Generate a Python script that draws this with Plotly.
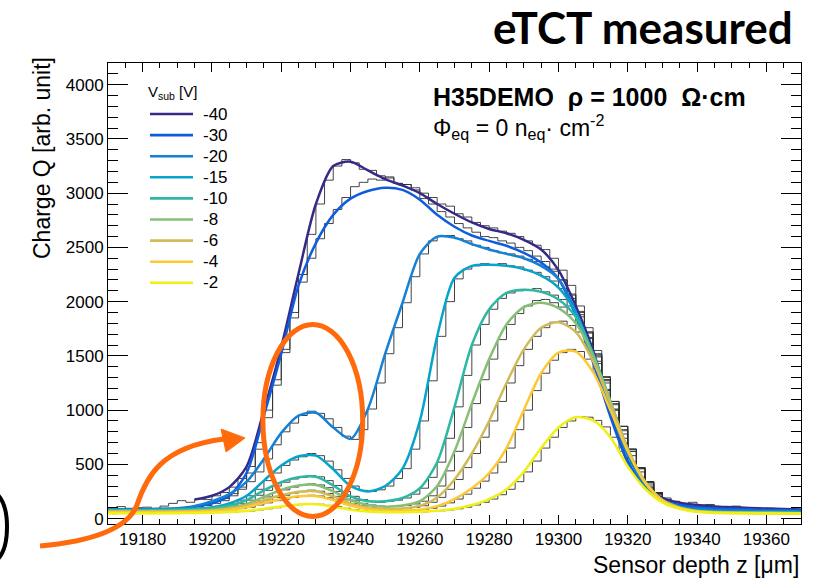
import plotly.graph_objects as go

# ---------------- data ----------------
voltages = ["-40", "-30", "-20", "-15", "-10", "-8", "-6", "-4", "-2"]
colors = ["#352A87", "#0F5CDD", "#1481D6", "#06A4CA", "#2EB7A4",
          "#87BF77", "#D1BB59", "#FEC832", "#F0F014"]

# fit grid (5 um) and measured histogram bin centres (2.5 um bins)
z_fit = [19170 + 5 * i for i in range(41)]
z_centres = [19171.25 + 2.5 * i for i in range(80)]

fit_m40 = [None, None, None, None, None, 175, 210, 290, 480, 1000, 1580, 2260, 2900, 3250, 3290, 3210,
           3130, 3070, 3000, 2900, 2810, 2730, 2670, 2630, 2570, 2480, 2290, 1960, 1550, 1000, 520,
           290, 190, 145, 125, 112, 105, 98, 92, 88, 84]
fit_m30 = [None, None, None, None, None, 110, 140, 210, 420, 950, 1520, 2150, 2540, 2800, 2950, 3020,
           3050, 3030, 2940, 2800, 2690, 2610, 2560, 2515, 2450, 2360, 2210, 1870, 1440, 940, 520,
           290, 170, 125, 105, 95, 90, 85, 80, 80, 75]
fit_m20 = [85, 85, 85, 90, 95, 115, 160, 225, 340, 550, 790, 950, 975, 840, 735, 1010,
           1520, 1990, 2440, 2600, 2590, 2530, 2480, 2440, 2400, 2330, 2210, 1910, 1490, 1010, 580,
           310, 170, 110, 90, 80, 75, 72, 70, 70, 68]
fit_m15 = [80, 80, 80, 82, 85, 90, 105, 140, 210, 350, 490, 575, 580, 455, 300, 250,
           300, 460, 900, 1680, 2220, 2330, 2340, 2330, 2300, 2240, 2130, 1900, 1510, 1050, 620,
           330, 170, 100, 75, 65, 60, 60, 58, 58, 55]
fit_m10 = [75, 75, 75, 78, 80, 85, 95, 120, 170, 260, 335, 380, 385, 305, 205, 160,
           160, 190, 280, 520, 1030, 1600, 1930, 2080, 2110, 2090, 2020, 1860, 1520, 1080, 640,
           340, 170, 100, 70, 60, 58, 55, 55, 55, 52]
fit_m8 = [70, 70, 70, 70, 72, 75, 82, 100, 135, 200, 265, 305, 310, 250, 170, 125,
          110, 120, 160, 300, 620, 1060, 1470, 1790, 1950, 1990, 1940, 1800, 1500, 1080, 640,
          340, 170, 100, 70, 60, 55, 55, 52, 52, 50]
fit_m6 = [65, 65, 65, 65, 66, 70, 75, 90, 120, 170, 215, 248, 252, 205, 140, 100,
          88, 92, 118, 195, 360, 600, 900, 1250, 1560, 1760, 1810, 1720, 1450, 1060, 640,
          340, 170, 100, 68, 58, 55, 52, 52, 50, 50]
fit_m4 = [58, 58, 58, 58, 60, 62, 68, 80, 105, 145, 180, 205, 208, 170, 120, 85,
          72, 72, 82, 115, 180, 280, 420, 650, 1000, 1340, 1530, 1540, 1350, 1000, 620,
          330, 165, 95, 65, 55, 52, 50, 50, 48, 48]
fit_m2 = [48, 48, 48, 48, 50, 52, 55, 60, 70, 90, 112, 130, 132, 110, 82, 65,
          58, 58, 62, 72, 90, 125, 180, 270, 430, 650, 840, 935, 905, 750, 480,
          275, 150, 90, 62, 52, 50, 48, 48, 47, 46]

meas_m40 = [95, 110, 90, 100, 105, 95, 115, 140, 165, 150, 180, 175,
            210, 240, 290, 370, 480, 700, 1000, 1280, 1560, 1900, 2250, 2620, 2900, 3120, 3250, 3310,
            3280, 3220, 3210, 3160, 3140, 3090, 3080, 3050, 3000, 2960, 2900, 2880, 2810, 2780, 2730,
            2700, 2680, 2650, 2630, 2600, 2560, 2520, 2480, 2400, 2290, 2150, 1960, 1760, 1550, 1280,
            1000, 740, 520, 380, 290, 230, 190, 160, 140, 150, 125, 130, 110, 105, 115, 95, 100, 90,
            95, 85, 90, 80]
meas_m30 = [90, 85, 95, 80, 90, 85, 95, 90, 100, 95, 110, 120,
            140, 165, 210, 290, 420, 640, 930, 1230, 1530, 1850, 2180, 2400, 2580, 2720, 2850, 2960,
            3060, 3100, 3130, 3120, 3150, 3090, 3080, 3030, 2950, 2900, 2830, 2780, 2720, 2680, 2640,
            2600, 2590, 2560, 2540, 2500, 2470, 2420, 2370, 2300, 2200, 2060, 1880, 1660, 1430, 1180,
            930, 700, 510, 380, 290, 220, 175, 150, 130, 125, 110, 105, 100, 95, 100, 90, 95, 85,
            90, 80, 85, 80]
meas_m20 = [80, 90, 85, 95, 80, 90, 85, 95, 100, 105, 115, 135,
            160, 185, 230, 270, 340, 430, 550, 680, 800, 880, 950, 990, 970, 920, 840, 760,
            730, 820, 1010, 1250, 1520, 1760, 1990, 2230, 2440, 2560, 2600, 2610, 2580, 2560, 2520,
            2500, 2470, 2450, 2440, 2420, 2390, 2370, 2320, 2280, 2200, 2070, 1910, 1720, 1490, 1250,
            1010, 780, 580, 430, 310, 230, 170, 130, 110, 100, 90, 95, 80, 85, 75, 80, 70, 75,
            70, 72, 68, 70]
meas_m15 = [80, 75, 85, 80, 90, 75, 85, 80, 85, 90, 95, 100,
            110, 120, 140, 170, 210, 270, 350, 420, 490, 540, 570, 600, 580, 530, 450, 370,
            300, 260, 250, 265, 300, 370, 460, 640, 900, 1270, 1680, 2000, 2210, 2300, 2330,
            2350, 2340, 2350, 2330, 2320, 2290, 2270, 2230, 2190, 2120, 2030, 1900, 1720, 1510, 1280,
            1050, 820, 620, 460, 330, 240, 170, 130, 100, 90, 80, 70, 65, 70, 60, 65, 60, 62,
            58, 60, 58, 55]
meas_m10 = [70, 80, 75, 70, 80, 75, 80, 75, 80, 85, 85, 90,
            95, 105, 120, 140, 170, 215, 260, 300, 335, 365, 380, 395, 385, 350, 305, 250,
            205, 175, 160, 150, 160, 170, 190, 225, 280, 380, 520, 740, 1030, 1320, 1600,
            1790, 1930, 2030, 2080, 2100, 2110, 2120, 2090, 2060, 2020, 1960, 1860, 1710, 1520, 1310,
            1080, 850, 640, 470, 340, 240, 170, 130, 100, 85, 70, 65, 60, 62, 58, 60, 55, 58,
            55, 56, 55, 52]
meas_m8 = [65, 75, 70, 65, 72, 68, 74, 70, 72, 75, 76, 80,
           84, 92, 100, 115, 135, 165, 200, 240, 265, 290, 305, 320, 310, 285, 250, 205,
           170, 140, 125, 115, 110, 112, 120, 135, 160, 210, 300, 440, 620, 840, 1060,
           1280, 1470, 1650, 1790, 1890, 1960, 2010, 2020, 1990, 1950, 1880, 1800, 1670, 1500, 1300,
           1080, 850, 640, 470, 340, 240, 170, 130, 100, 82, 70, 64, 60, 58, 55, 57, 55, 53,
           52, 54, 52, 50]
meas_m6 = [60, 68, 62, 66, 60, 65, 68, 64, 66, 70, 70, 72,
           75, 82, 90, 102, 120, 145, 170, 195, 215, 235, 248, 262, 252, 232, 205, 172,
           140, 118, 100, 92, 88, 88, 92, 102, 118, 150, 195, 270, 360, 470, 600,
           750, 900, 1080, 1250, 1410, 1560, 1680, 1760, 1810, 1820, 1780, 1720, 1610, 1450, 1270,
           1060, 850, 640, 470, 340, 240, 170, 130, 100, 80, 68, 62, 58, 56, 55, 53, 52, 54,
           52, 50, 50, 50]
meas_m4 = [55, 60, 57, 62, 55, 60, 58, 56, 60, 62, 62, 65,
           68, 73, 80, 92, 105, 125, 145, 165, 180, 195, 205, 215, 208, 192, 170, 145,
           120, 100, 85, 76, 72, 70, 72, 76, 82, 95, 115, 145, 180, 225, 280,
           345, 420, 520, 650, 820, 1000, 1180, 1340, 1460, 1530, 1560, 1540, 1470, 1350, 1190,
           1000, 810, 620, 460, 330, 235, 165, 125, 95, 78, 65, 60, 55, 54, 52, 51, 50, 52,
           50, 49, 48, 48]
meas_m2 = [45, 50, 48, 46, 50, 48, 47, 50, 50, 52, 52, 54,
           55, 58, 60, 65, 70, 80, 90, 100, 112, 122, 130, 138, 132, 122, 110, 95,
           82, 72, 65, 60, 58, 57, 58, 60, 62, 66, 72, 80, 90, 105, 125,
           150, 180, 220, 270, 340, 430, 530, 650, 750, 840, 900, 940, 935, 905, 845,
           750, 620, 480, 370, 275, 205, 150, 115, 90, 75, 62, 56, 52, 51, 50, 49, 48, 48,
           48, 47, 47, 46]

fits = [fit_m40, fit_m30, fit_m20, fit_m15, fit_m10, fit_m8, fit_m6, fit_m4, fit_m2]
measured = [meas_m40, meas_m30, meas_m20, meas_m15, meas_m10, meas_m8, meas_m6, meas_m4, meas_m2]

# ---------------- figure ----------------
W, H = 815, 578
ML, MR, MT, MB = 108, 14, 63, 54
PW, PH = W - ML - MR, H - MT - MB
FONT = "Liberation Sans, Arial, Helvetica"


def px2p(px, py):
    return (px - ML) / PW, (H - MB - py) / PH


def pp(px, py):
    """pixel -> paper coordinate string"""
    a, b = px2p(px, py)
    return f"{a:.4f},{b:.4f}"


fig = go.Figure()

# measured histograms (below the fit curves), steps centred on the bin centres
for name, yv in zip(voltages, measured):
    fig.add_trace(go.Scatter(x=z_centres, y=yv, mode="lines", showlegend=False,
                             line=dict(color="#2e2e2e", width=0.9, shape="hvh"),
                             hoverinfo="skip"))

# fitted curves
for name, col, yv in zip(voltages, colors, fits):
    fig.add_trace(go.Scatter(x=z_fit, y=yv, mode="lines", name=name, showlegend=False,
                             line=dict(color=col, width=2.5, shape="spline", smoothing=0.8),
                             connectgaps=False))

axis_common = dict(showline=True, linecolor="black", linewidth=1, mirror="allticks",
                   ticks="inside", tickcolor="black", showgrid=False, zeroline=False,
                   tickfont=dict(family=FONT, size=17, color="black"))

fig.update_xaxes(range=[19170, 19370], dtick=20, tick0=19180, ticklen=9, tickformat="d",
                 minor=dict(dtick=5, ticks="inside", ticklen=5, tickcolor="black"),
                 **axis_common)
fig.update_yaxes(range=[-50, 4200], dtick=500, tick0=0, ticklen=20, tickformat="d",
                 minor=dict(dtick=100, ticks="inside", ticklen=10, tickcolor="black"),
                 **axis_common)

ORANGE = "#FF6A0D"
shapes = [
    # orange ellipse around the small peaks
    dict(type="circle", xref="x", yref="y", x0=19214.7, x1=19243.5, y0=20, y1=1790,
         line=dict(color=ORANGE, width=5)),
    # orange curved arrow
    dict(type="path", xref="paper", yref="paper",
         path=f"M{pp(40, 546)} C{pp(95, 541)} {pp(128, 528)} {pp(137, 505)} "
              f"C{pp(146, 478)} {pp(160, 447)} {pp(224, 439)}",
         line=dict(color=ORANGE, width=5)),
    dict(type="path", xref="paper", yref="paper",
         path=f"M{pp(221, 429)} L{pp(245, 438)} L{pp(226, 452)} Z",
         fillcolor=ORANGE, line=dict(color=ORANGE, width=1)),
    # black arc at the left edge
    dict(type="path", xref="paper", yref="paper",
         path=f"M{pp(-2, 495)} C{pp(10, 508)} {pp(10, 546)} {pp(-2, 559)}",
         line=dict(color="black", width=4)),
]

annotations = [
    dict(text="<b>eTCT measured</b>", xref="paper", yref="paper",
         x=(795 - ML) / PW, y=(H - MB - 27) / PH, xanchor="right", yanchor="middle",
         showarrow=False, font=dict(family="Lato, Open Sans", size=44, color="black")),
    dict(text="<b>H35DEMO  ρ = 1000  Ω·cm</b>", xref="paper", yref="paper",
         x=(431 - ML) / PW, y=(H - MB - 97) / PH, xanchor="left", yanchor="middle",
         showarrow=False, font=dict(family=FONT, size=25, color="black")),
    dict(text="Φ<sub>eq</sub> = 0 n<sub>eq</sub>· cm<sup>-2</sup>", xref="paper", yref="paper",
         x=(431 - ML) / PW, y=(H - MB - 127) / PH, xanchor="left", yanchor="middle",
         showarrow=False, font=dict(family=FONT, size=23, color="black")),
    dict(text="Charge Q [arb. unit]", xref="paper", yref="paper", textangle=-90,
         x=(42 - ML) / PW, y=(H - MB - 55) / PH, xanchor="center", yanchor="top",
         showarrow=False, font=dict(family=FONT, size=23, color="black")),
    dict(text="Sensor depth z [μm]", xref="paper", yref="paper",
         x=(801 - ML) / PW, y=(H - MB - 565) / PH, xanchor="right", yanchor="middle",
         showarrow=False, font=dict(family=FONT, size=23, color="black")),
    # legend title
    dict(text="V<sub>sub</sub> [V]", xref="paper", yref="paper",
         x=(146 - ML) / PW, y=(H - MB - 92) / PH, xanchor="left", yanchor="middle",
         showarrow=False, font=dict(family=FONT, size=15, color="black")),
]

# ROOT-style legend: coloured line + label for each voltage
LEG_Y0, LEG_DY = 114, 21.1
for i, (name, col) in enumerate(zip(voltages, colors)):
    yy = LEG_Y0 + i * LEG_DY
    xa, ya = px2p(150, yy)
    xb, _ = px2p(193, yy)
    shapes.append(dict(type="line", xref="paper", yref="paper", x0=xa, x1=xb, y0=ya, y1=ya,
                       line=dict(color=col, width=2.6)))
    xt, _ = px2p(201, yy)
    annotations.append(dict(text=name, xref="paper", yref="paper", x=xt, y=ya,
                            xanchor="left", yanchor="middle", showarrow=False,
                            font=dict(family=FONT, size=17, color="black")))

fig.update_layout(
    width=W, height=H,
    margin=dict(l=ML, r=MR, t=MT, b=MB),
    paper_bgcolor="white", plot_bgcolor="white",
    shapes=shapes, annotations=annotations,
    showlegend=False,
)

fig.write_html("out.html", config={"displayModeBar": False},
               post_script="document.body.style.margin='0px';document.body.style.overflow='hidden';")
